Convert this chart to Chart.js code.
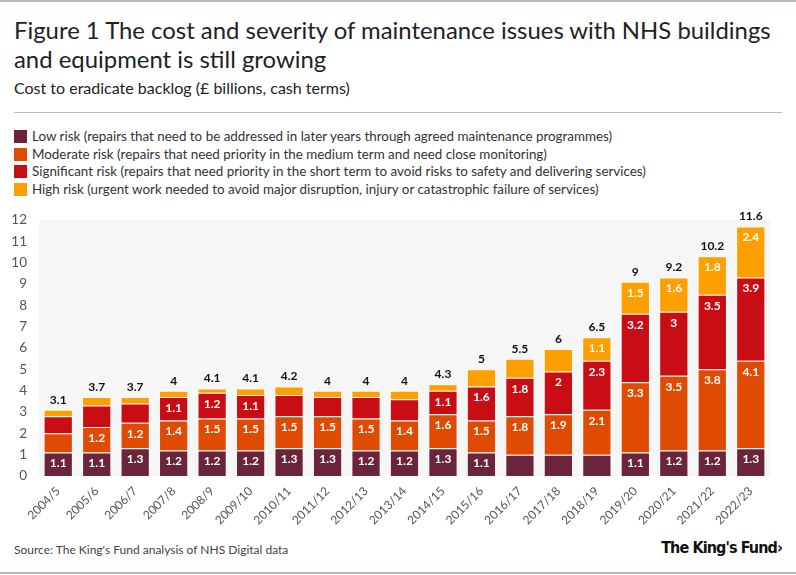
<!DOCTYPE html>
<html>
<head>
<meta charset="utf-8">
<script src="https://cdn.jsdelivr.net/npm/chart.js@4"></script>
<style>
    body { margin: 0; background: #fff; font-family: Lato, "Open Sans", sans-serif; color: #222; }
    .page { position: relative; width: 796px; height: 575px; overflow: hidden; }
    .rule { position: absolute; left: 0; right: 0; height: 2px; background: #b4bcc2; }
    h1 { position: absolute; left: 14px; top: 15px; margin: 0; font-weight: 400; font-size: 23.9px; line-height: 29px; color: #222; white-space: nowrap; }
    .sub { position: absolute; left: 14px; top: 78px; font-size: 16px; color: #222; }
    .sep { position: absolute; left: 14px; top: 112px; width: 768px; height: 1px; background: #b4bcc2; }
    .legend { position: absolute; left: 14px; top: 128px; font-size: 13.4px; color: #333; }
    .legend div { height: 17.5px; line-height: 17px; white-space: nowrap; }
    .legend span { display: inline-block; width: 13px; height: 13px; vertical-align: -2px; margin-right: 5px; }
    .chart-box { position: absolute; left: 0; top: 200px; width: 782px; height: 326px; }
    .source { position: absolute; left: 14px; top: 542px; font-size: 12px; color: #444; }
    .logo { position: absolute; right: 14px; top: 538px; font-family: "Liberation Sans Narrow", "DejaVu Sans Condensed", sans-serif; font-weight: 700; font-size: 16px; letter-spacing: -0.9px; color: #111; }
</style>
</head>
<body>
<div class="page">
    <div class="rule" style="top:0"></div>
    <h1>Figure 1 The cost and severity of maintenance issues with NHS buildings<br>and equipment is still growing</h1>
    <div class="sub">Cost to eradicate backlog (£ billions, cash terms)</div>
    <div class="sep"></div>
    <div class="legend" id="legend"></div>
    <div class="chart-box"><canvas id="backlogChart"></canvas></div>
    <div class="source">Source: The King's Fund analysis of NHS Digital data</div>
    <div class="logo">The King's Fund&#x203A;</div>
    <div class="rule" style="top:572px"></div>
</div>
<script>
// ===== Data =====
const years = ['2004/5', '2005/6', '2006/7', '2007/8', '2008/9', '2009/10', '2010/11', '2011/12', '2012/13', '2013/14',
    '2014/15', '2015/16', '2016/17', '2017/18', '2018/19', '2019/20', '2020/21', '2021/22', '2022/23'];

const lowRisk         = [1.1, 1.1, 1.3, 1.2, 1.2, 1.2, 1.3, 1.3, 1.2, 1.2, 1.3, 1.1, 1.0, 1.0, 1.0, 1.1, 1.2, 1.2, 1.3];
const moderateRisk    = [0.9, 1.2, 1.2, 1.4, 1.5, 1.5, 1.5, 1.5, 1.5, 1.4, 1.6, 1.5, 1.8, 1.9, 2.1, 3.3, 3.5, 3.8, 4.1];
const significantRisk = [0.8, 1.0, 0.9, 1.1, 1.2, 1.1, 1.0, 0.9, 1.0, 1.0, 1.1, 1.6, 1.8, 2.0, 2.3, 3.2, 3.0, 3.5, 3.9];
const highRisk        = [0.3, 0.4, 0.3, 0.3, 0.2, 0.3, 0.4, 0.3, 0.3, 0.4, 0.3, 0.8, 0.9, 1.05, 1.1, 1.5, 1.6, 1.8, 2.4];
const totals          = [3.1, 3.7, 3.7, 4, 4.1, 4.1, 4.2, 4, 4, 4, 4.3, 5, 5.5, 6, 6.5, 9, 9.2, 10.2, 11.6];

const yTicks = [0, 1, 2, 3, 4, 5, 6, 7, 8, 9, 10, 11, 12];

const seriesNames = [
    'Low risk (repairs that need to be addressed in later years through agreed maintenance programmes)',
    'Moderate risk (repairs that need priority in the medium term and need close monitoring)',
    'Significant risk (repairs that need priority in the short term to avoid risks to safety and delivering services)',
    'High risk (urgent work needed to avoid major disruption, injury or catastrophic failure of services)'
];
const seriesColors = ['#6b2439', '#e04b04', '#c80e14', '#fe9f00'];

// Legend
document.getElementById('legend').innerHTML = seriesNames.map((name, i) =>
    `<div><span style="background:${seriesColors[i]}"></span>${name}</div>`).join('');

// ===== Labels plugin (values inside segments, totals on top) =====
const labelPlugin = {
    id: 'barLabels',
    afterDatasetsDraw(chart) {
        const ctx = chart.ctx;
        ctx.save();
        ctx.textAlign = 'center';
        ctx.textBaseline = 'middle';
        ctx.font = 'bold 12px Lato, "Open Sans", sans-serif';
        ctx.fillStyle = '#fff';
        chart.data.datasets.forEach((ds, di) => {
            const meta = chart.getDatasetMeta(di);
            meta.data.forEach((bar, i) => {
                const v = ds.data[i];
                if (v < 1.1) return;
                // label sits near the top of the segment
                ctx.fillText(String(v), bar.x, bar.y + 11);
            });
        });
        // totals above the stack
        const topMeta = chart.getDatasetMeta(chart.data.datasets.length - 1);
        ctx.fillStyle = '#111';
        ctx.textBaseline = 'bottom';
        topMeta.data.forEach((bar, i) => {
            ctx.fillText(String(totals[i]), bar.x, bar.y - 4);
        });
        ctx.restore();
    }
};

// Plot area background
const plotBg = {
    id: 'plotBg',
    beforeDraw(chart) {
        const a = chart.chartArea;
        chart.ctx.save();
        chart.ctx.fillStyle = '#f6f6f6';
        chart.ctx.fillRect(a.left, a.top, a.right - a.left, a.bottom - a.top);
        chart.ctx.restore();
    }
};

const datasets = [lowRisk, moderateRisk, significantRisk, highRisk].map((values, i) => ({
    label: seriesNames[i],
    data: values,
    backgroundColor: seriesColors[i],
    borderColor: 'rgba(255,255,255,0.55)',
    borderWidth: 1,
    barPercentage: 0.76,
    categoryPercentage: 1.0
}));

new Chart(document.getElementById('backlogChart'), {
    type: 'bar',
    data: { labels: years, datasets: datasets },
    options: {
        responsive: true,
        maintainAspectRatio: false,
        animation: false,
        layout: { padding: { top: 20, right: 12, left: 0, bottom: 0 } },
        plugins: {
            legend: { display: false },
            tooltip: { enabled: false }
        },
        scales: {
            x: {
                stacked: true,
                grid: { display: false },
                border: { display: false },
                ticks: {
                    maxRotation: 45,
                    minRotation: 45,
                    color: '#555',
                    padding: 0,
                    font: { family: 'Lato, "Open Sans", sans-serif', size: 12 }
                },
                afterFit(scale) { scale.height = 50; }
            },
            y: {
                stacked: true,
                min: 0,
                max: 12,
                grid: { display: false },
                border: { display: false },
                afterBuildTicks(scale) { scale.ticks = yTicks.map(v => ({ value: v })); },
                ticks: {
                    color: '#555',
                    padding: 4,
                    font: { family: 'Lato, "Open Sans", sans-serif', size: 13.5 }
                },
                afterFit(scale) { scale.width = 39; }
            }
        }
    },
    plugins: [plotBg, labelPlugin]
});
</script>
</body>
</html>
